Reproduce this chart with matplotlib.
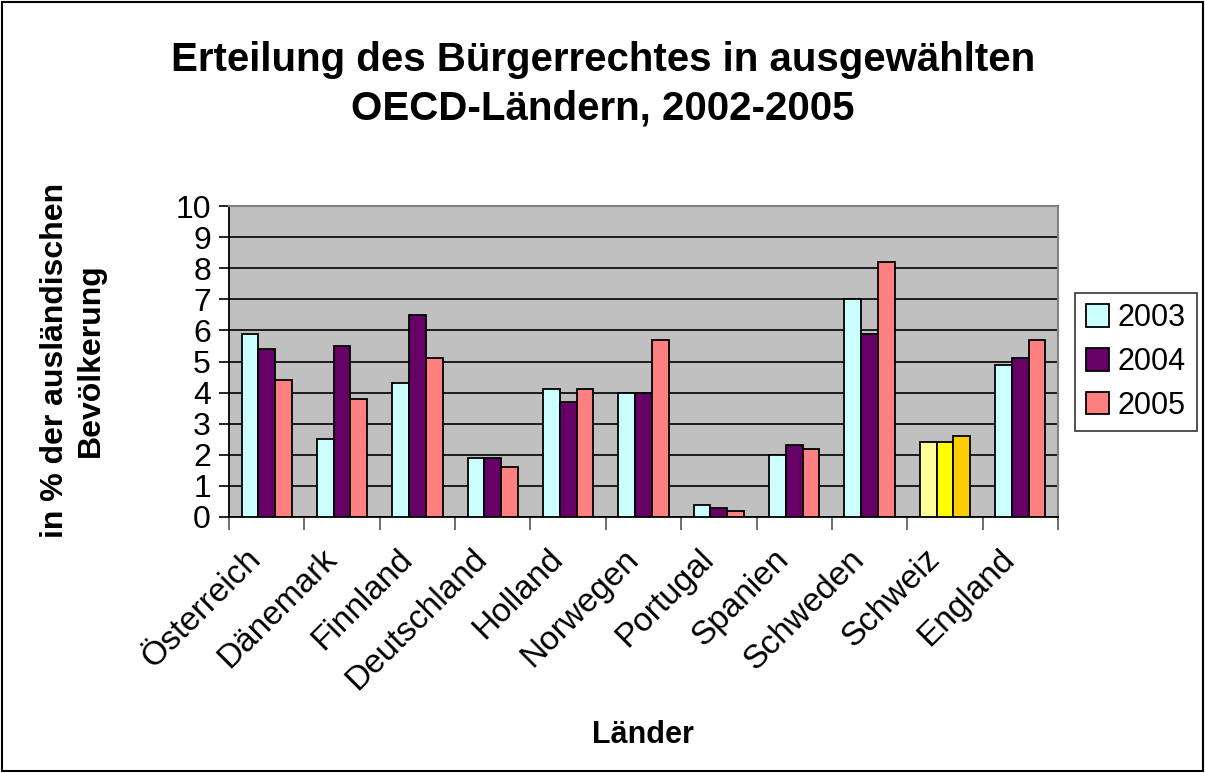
import matplotlib
matplotlib.use("Agg")
import matplotlib.pyplot as plt
import numpy as np

plt.rcParams['font.family'] = ['Liberation Sans', 'DejaVu Sans']

categories = ["Österreich", "Dänemark", "Finnland", "Deutschland", "Holland",
              "Norwegen", "Portugal", "Spanien", "Schweden", "Schweiz", "England"]
series_names = ["2003", "2004", "2005"]
v2003 = [5.9, 2.5, 4.3, 1.9, 4.1, 4.0, 0.4, 2.0, 7.0, 2.4, 4.9]
v2004 = [5.4, 5.5, 6.5, 1.9, 3.7, 4.0, 0.3, 2.3, 5.9, 2.4, 5.1]
v2005 = [4.4, 3.8, 5.1, 1.6, 4.1, 5.7, 0.2, 2.2, 8.2, 2.6, 5.7]
yticks = list(range(0, 11))

colors = ["#CCFFFF", "#660066", "#FF8080"]
schweiz_colors = ["#FFFF99", "#FFFF00", "#FFCC00"]

fig = plt.figure(figsize=(12.05, 7.73), dpi=100)
ax = fig.add_axes([229/1205, 1-517/773, (1058-229)/1205, (517-206)/773])
ax.set_facecolor("#C0C0C0")

x = np.arange(len(categories))
w = 1/4.5
for i, (vals, c) in enumerate(zip([v2003, v2004, v2005], colors)):
    cols = [schweiz_colors[i] if cat == "Schweiz" else c for cat in categories]
    ax.bar(x + (i-1)*w, vals, width=w, color=cols, edgecolor="black",
           linewidth=1.3, label=series_names[i], zorder=3)

ax.set_xlim(-0.5, len(categories)-0.5)
ax.set_ylim(0, 10)
ax.set_yticks(yticks)
ax.set_yticklabels([str(t) for t in yticks], fontsize=23)
ax.yaxis.grid(True, color="black", linewidth=1.2, zorder=1)
ax.set_axisbelow(True)

ax.set_xticks(np.arange(-0.5, len(categories), 1.0), minor=False)
ax.set_xticklabels([])
ax.tick_params(axis='x', length=9, width=1.2, direction='out', color='#555555')
ax.tick_params(axis='y', length=7, width=1.2, direction='out', pad=6)

for xi, cat in zip(x, categories):
    ax.text(xi - 0.28, -0.85, cat, rotation=45, ha='right', va='top',
            rotation_mode='anchor', fontsize=24)

for s in ['top', 'right']:
    ax.spines[s].set_color('#808080')
    ax.spines[s].set_linewidth(1.5)
for s in ['left', 'bottom']:
    ax.spines[s].set_color('black')
    ax.spines[s].set_linewidth(1.3)

fig.text(603/1205, 1-60/773, "Erteilung des Bürgerrechtes in ausgewählten",
         ha='center', va='center', fontsize=29, fontweight='bold')
fig.text(603/1205, 1-108/773, "OECD-Ländern, 2002-2005",
         ha='center', va='center', fontsize=29, fontweight='bold')
fig.text(73/1205, 1-360/773, "in % der ausländischen\nBevölkerung", rotation=90,
         ha='center', va='center', fontsize=23, fontweight='bold', linespacing=1.25)
fig.text(643/1205, 1-735/773, "Länder", ha='center', va='center',
         fontsize=22, fontweight='bold')

leg = fig.legend(loc='center', bbox_to_anchor=(1136/1205, 1-362/773), fontsize=22,
                 frameon=True, fancybox=False, edgecolor='black',
                 handlelength=0.75, handleheight=0.75, handletextpad=0.3,
                 labelspacing=0.45, borderpad=0.35, borderaxespad=0)
leg.get_frame().set_linewidth(1.2)

border = plt.Rectangle((0.002, 0.002), 0.996, 0.996, transform=fig.transFigure,
                       fill=False, edgecolor='black', linewidth=1.5)
fig.patches.append(border)

fig.savefig("out.png", dpi=100)
